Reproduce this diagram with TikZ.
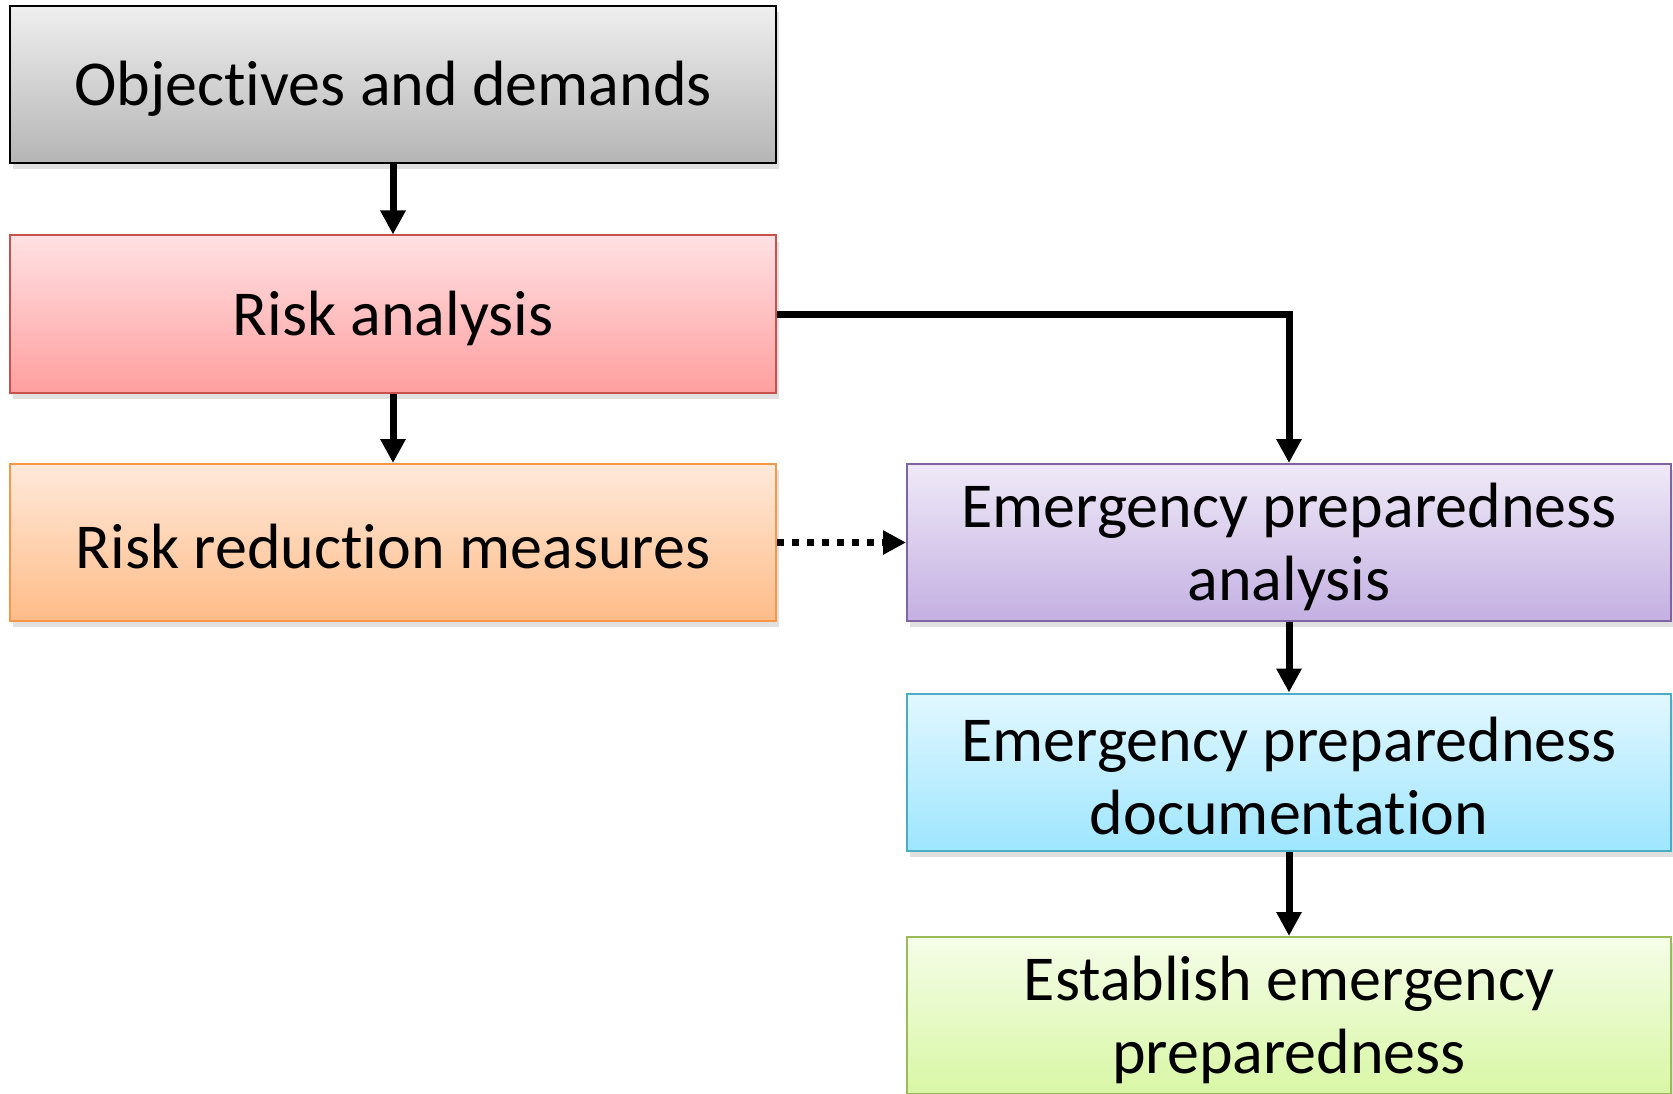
\documentclass[tikz,border=0pt]{standalone}
\usepackage{fontspec}
\setmainfont{Carlito}[Ligatures=NoCommon]
\usetikzlibrary{arrows.meta,shadows}

\definecolor{greyT}{HTML}{EFEFEF}
\definecolor{greyB}{HTML}{B5B5B5}
\definecolor{redT}{HTML}{FFE1E3}
\definecolor{redB}{HTML}{FF9F9F}
\definecolor{redD}{HTML}{C8504D}
\definecolor{oraT}{HTML}{FFE9DA}
\definecolor{oraB}{HTML}{FFBC88}
\definecolor{oraD}{HTML}{F79646}
\definecolor{purT}{HTML}{EFE9F7}
\definecolor{purB}{HTML}{C4B0E2}
\definecolor{purD}{HTML}{8064A2}
\definecolor{bluT}{HTML}{E2F7FF}
\definecolor{bluB}{HTML}{9EE6FF}
\definecolor{bluD}{HTML}{4BACC6}
\definecolor{grnT}{HTML}{F5FDE8}
\definecolor{grnB}{HTML}{D8F7A5}
\definecolor{grnD}{HTML}{9BBB59}

% an invisible strut that sets the box text a little lower than centre
\newcommand\lowstrut{\rule{0pt}{\dimexpr\fontcharht\font`d+9pt\relax}}

\begin{document}
\begin{tikzpicture}[x=1pt,y=-1pt,
  stepbox/.style={rectangle, inner sep=0pt, line width=2pt,
    minimum width=766pt, minimum height=157pt, align=center,
    font=\fontsize{64}{73}\selectfont,
    drop shadow={shadow xshift=3pt, shadow yshift=-6pt, fill=black, opacity=0.12}},
  flow/.style={line width=7pt, -{Triangle[length=24pt,width=24pt]}},
  hint/.style={line width=7.5pt, dash pattern=on 7pt off 8pt,
    -{Triangle[length=23pt,width=23pt]}}
]
\useasboundingbox (0,0) rectangle (1673,1094);

% left column
\node[stepbox, draw=black, line width=2.5pt, top color=greyT, bottom color=greyB]
  (obj) at (393,84.5) {\lowstrut Objectives and demands};
\node[stepbox, draw=redD, top color=redT, bottom color=redB]
  (risk) at (393,314) {\lowstrut Risk analysis};
\node[stepbox, draw=oraD, top color=oraT, bottom color=oraB]
  (meas) at (393,542.5) {\lowstrut Risk reduction measures};

% right column
\node[stepbox, draw=purD, minimum width=764pt, top color=purT, bottom color=purB]
  (epa) at (1289,542.5) {\lowstrut Emergency preparedness\\analysis};
\node[stepbox, draw=bluD, minimum width=764pt, top color=bluT, bottom color=bluB]
  (doc) at (1289,772) {\lowstrut Emergency preparedness\\documentation};
\node[stepbox, draw=grnD, minimum width=764pt, top color=grnT, bottom color=grnB]
  (est) at (1289,1015.5) {\lowstrut Establish emergency\\preparedness};

% connectors
\draw[flow] (obj.south) -- (risk.north);
\draw[flow] (risk.south) -- (meas.north);
\draw[flow] (risk.east) -| (epa.north);
\draw[hint] (meas.east) -- (epa.west);
\draw[flow] (epa.south) -- (doc.north);
\draw[flow] (doc.south) -- (est.north);
\end{tikzpicture}
\end{document}
